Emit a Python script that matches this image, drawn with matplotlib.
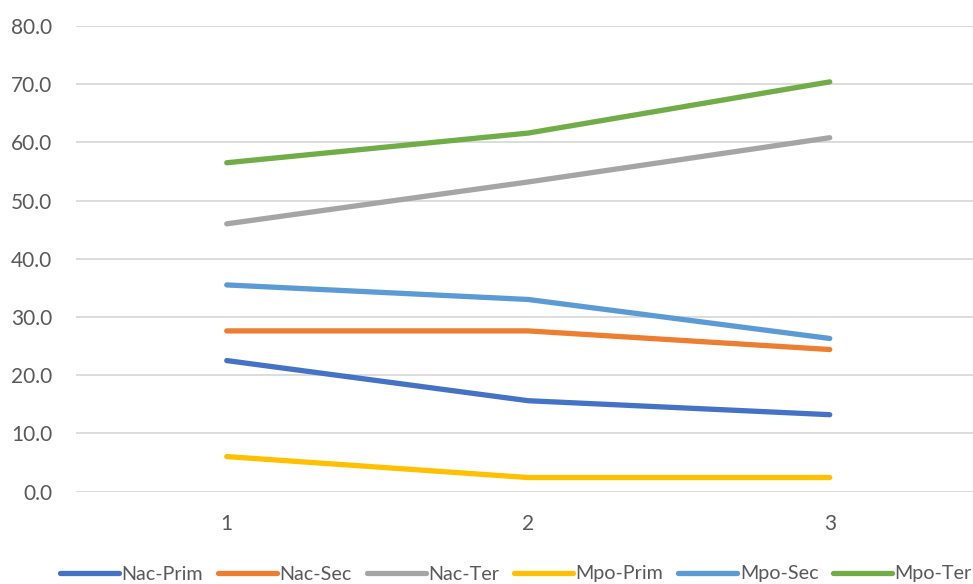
import matplotlib
matplotlib.use("Agg")
import matplotlib.pyplot as plt

categories = ["1", "2", "3"]
series_names = ["Nac-Prim", "Nac-Sec", "Nac-Ter", "Mpo-Prim", "Mpo-Sec", "Mpo-Ter"]
nac_prim = [22.5, 15.6, 13.2]
nac_sec = [27.6, 27.6, 24.4]
nac_ter = [46.0, 53.2, 60.8]
mpo_prim = [6.0, 2.4, 2.4]
mpo_sec = [35.5, 33.0, 26.3]
mpo_ter = [56.5, 61.6, 70.4]
colors = ["#4472C4", "#ED7D31", "#A5A5A5", "#FFC000", "#5B9BD5", "#70AD47"]

plt.rcParams["font.family"] = ["Lato", "DejaVu Sans"]

fig = plt.figure(figsize=(9.73, 5.84), dpi=100)
W, H = 973, 584
ax = fig.add_axes([76 / W, 1 - 491.5 / H, 1 - 76 / W, (491.5 - 26) / H])

x = [1, 2, 3]
allSeries = [nac_prim, nac_sec, nac_ter, mpo_prim, mpo_sec, mpo_ter]
for name, vals, c in zip(series_names, allSeries, colors):
    ax.plot(x, vals, color=c, lw=3.8, solid_capstyle="round",
            solid_joinstyle="round", label=name)

ax.set_ylim(0, 80)
ax.set_xlim(0.5, 0.5 + (W - 76) / 301.5)
ax.set_yticks(range(0, 81, 10))
ax.set_yticklabels(["%.1f" % v for v in range(0, 81, 10)])
ax.set_xticks(x)
ax.set_xticklabels(categories)
ax.grid(axis="y", color="#D9D9D9", lw=1.3)
ax.set_axisbelow(True)
for s in ax.spines.values():
    s.set_visible(False)
ax.tick_params(length=0, labelsize=15, colors="#595959")
ax.tick_params(axis="y", pad=17)
ax.tick_params(axis="x", pad=16)

# legend along the bottom, roughly 62..970 px wide
leg = fig.legend(loc="center", bbox_to_anchor=(516 / W, 1 - 574 / H),
                 ncol=6, frameon=False, fontsize=14.2, handlelength=3.0,
                 handletextpad=0.12, columnspacing=0.75, borderaxespad=0,
                 borderpad=0)
for t in leg.get_texts():
    t.set_color("#595959")

fig.savefig("out.png", dpi=100)
